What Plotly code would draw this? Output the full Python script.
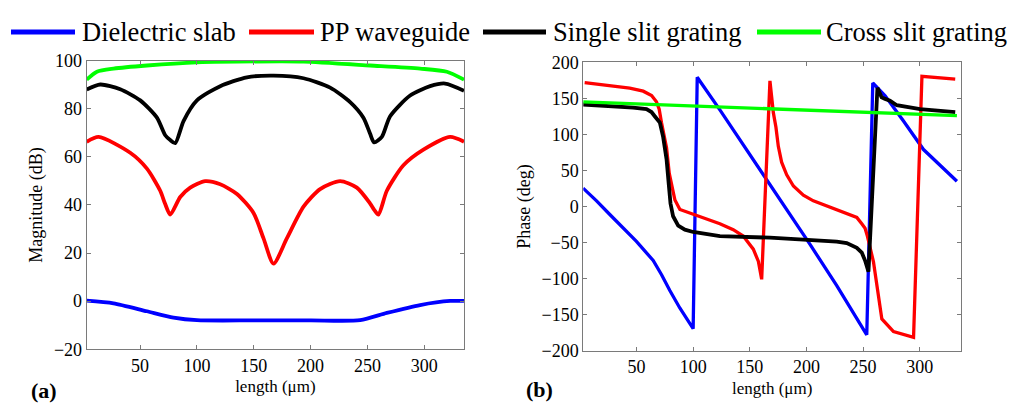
import plotly.graph_objects as go

W, H = 1011, 409
FONT = "Liberation Serif, Times New Roman, serif"

series_names = ["Dielectric slab", "PP waveguide", "Single slit grating", "Cross slit grating"]
series_colors = ["#0000FF", "#FF0000", "#000000", "#00FF00"]

# ---------- (a) Magnitude (dB) ----------
mag_slab_x = [3, 26.6, 56, 79.4, 100, 150, 200, 243.6, 267.1, 296.4, 322.8, 335]
mag_slab_y = [0.2, -0.9, -4.2, -6.8, -7.9, -8.0, -8.0, -7.9, -4.9, -1.6, 0.1, 0.1]

mag_pp_x = [3, 13.5, 41.3, 56, 67.7, 72, 76.5, 85.3, 94.1, 107.3, 120.5, 135.2, 149.8, 158.6, 167.4,
            179.1, 193.8, 208.4, 226, 240.7, 252.4, 256, 259.7, 267.1, 281.7, 299.3, 322.8, 335]
mag_pp_y = [66.3, 68.3, 61.7, 55.1, 45.9, 40.5, 36.0, 43.3, 47.2, 49.9, 48.6, 44.6, 36.7, 26.1, 15.6,
            26.1, 39.3, 46.6, 49.9, 47.2, 40.6, 38.0, 36.0, 45.9, 56.5, 63.0, 68.3, 66.3]

mag_single_x = [3, 15, 32.5, 50.1, 64.8, 72.1, 76.5, 80.9, 88.2, 100, 120.5, 144, 167.4, 193.8,
                217.2, 234.8, 246.5, 252.4, 255.9, 262.7, 270, 287.6, 305.2, 318.4, 335]
mag_single_y = [88.0, 90.1, 88.1, 83.5, 76.3, 69.0, 67.0, 65.7, 74.9, 83.5, 89.4, 93.1, 93.8, 92.7,
                88.8, 82.8, 76.3, 69.6, 66.0, 68.3, 76.9, 85.5, 89.4, 90.5, 87.5]

mag_cross_x = [3, 12, 26.6, 56, 100, 173, 193.8, 252.4, 296.4, 319.9, 335]
mag_cross_y = [92.1, 95.4, 96.7, 98.0, 99.3, 99.7, 99.6, 98.0, 96.7, 95.4, 92.1]

# ---------- (b) Phase (deg) ----------
ph_slab_x = [2.8, 14.7, 26.4, 38.2, 49.9, 64.7, 72.1, 79.4, 88.2, 100.0, 103.6, 123.6, 147.2, 176.1,
             203.2, 226.8, 253.3, 258.6, 269.5, 285.7, 303.4, 332.9]
ph_slab_y = [25.5, 7.9, -11.0, -29.5, -48.4, -74.8, -94.5, -116.5, -140.7, -169.3, 179.3, 134.0, 79.0, 10.9,
             -52.5, -109.7, -177.8, 171.3, 153.7, 118.6, 79.0, 35.0]

ph_pp_x = [4.2, 29.4, 44, 55.9, 63.3, 67.6, 70, 72, 74.2, 76.5, 78.9, 80.9, 83.9, 88.3, 100, 111.8,
           123.6, 135.4, 144.2, 153.1, 157.6, 160.5, 167.8, 169.3, 170.8, 173.1, 175.2, 178.1, 182.6,
           188.5, 197.3, 206.1, 215, 226.8, 238.6, 244.5, 248.9, 251.8, 253.9, 259.2, 266.6, 276.9,
           294.6, 302, 331.4]
ph_pp_y = [171.7, 167.3, 164.2, 160.0, 154.0, 145.3, 135.0, 116.7, 99.0, 81.6, 46.0, 28.8, 9.1, -4.1,
           -10.7, -17.3, -23.9, -32.1, -40.9, -59.1, -76.0, -100.9, 174.2, 152.2, 130.2, 110.0, 83.5,
           61.5, 44.0, 28.5, 15.8, 7.9, 2.6, -3.5, -10.6, -15.0, -23.8, -30.0, -41.4, -76.6, -155.8,
           -173.4, -181.3, 180.5, 176.8]

ph_single_x = [2.8, 29.3, 47, 58.8, 63.2, 66.1, 70.6, 73.5, 76.5, 78.5, 80, 82.3, 86.8, 92.7, 100,
               123.6, 167.8, 226.8, 235.6, 244.5, 248.9, 251.8, 254.8, 262.7, 266.4, 269.5, 273.8,
               279.8, 300.4, 331.4]
ph_single_y = [141.5, 139.3, 137.1, 135.0, 131.0, 125.2, 116.4, 96.6, 65.8, 30.1, 4.2, -13.5, -26.5,
               -32.1, -35.3, -41.0, -43.2, -48.5, -50.7, -57.3, -63.9, -74.9, -90.3, 164.7, 151.5,
               149.3, 146.9, 140.5, 135.2, 130.8]

ph_cross_x = [2.8, 60, 120, 176.1, 240, 300, 332.9]
ph_cross_y = [145.0, 141.7, 138.3, 135.3, 131.4, 128.0, 126.1]

mag_x = [mag_slab_x, mag_pp_x, mag_single_x, mag_cross_x]
mag_y = [mag_slab_y, mag_pp_y, mag_single_y, mag_cross_y]
ph_x = [ph_slab_x, ph_pp_x, ph_single_x, ph_cross_x]
ph_y = [ph_slab_y, ph_pp_y, ph_single_y, ph_cross_y]

mag_ticks = [-20, 0, 20, 40, 60, 80, 100]
ph_ticks = [-200, -150, -100, -50, 0, 50, 100, 150, 200]
x_ticks = [50, 100, 150, 200, 250, 300]

fig = go.Figure()
for i in range(4):
    fig.add_trace(go.Scatter(x=mag_x[i], y=mag_y[i], mode="lines", name=series_names[i],
                             line=dict(color=series_colors[i], width=3.8, shape="spline", smoothing=0.7),
                             showlegend=False, xaxis="x", yaxis="y"))
for i in range(4):
    fig.add_trace(go.Scatter(x=ph_x[i], y=ph_y[i], mode="lines", name=series_names[i],
                             line=dict(color=series_colors[i], width=3.3 if i != 2 else 3.8),
                             showlegend=False, xaxis="x2", yaxis="y2"))

AXC = "#7a7a7a"
common = dict(showline=True, linecolor=AXC, linewidth=1, mirror="ticks", ticks="inside",
              ticklen=4, tickcolor=AXC, showgrid=False, zeroline=False,
              tickfont=dict(family=FONT, size=18, color="black"))

fig.update_layout(
    width=W, height=H, autosize=False,
    margin=dict(l=0, r=0, t=0, b=0),
    paper_bgcolor="white", plot_bgcolor="white",
    font=dict(family=FONT, color="black"),
    xaxis=dict(domain=[86.7 / W, 464 / W], range=[3, 335], tickvals=x_ticks,
               title=dict(text="length (μm)", font=dict(family=FONT, size=17), standoff=5),
               anchor="y", **common),
    yaxis=dict(domain=[1 - 356.7 / H, 1 - 53.3 / H], range=[-20, 100], tickvals=mag_ticks,
               title=dict(text="Magnitude (dB)", font=dict(family=FONT, size=18), standoff=6),
               anchor="x", **common),
    xaxis2=dict(domain=[583.3 / W, 961 / W], range=[3, 336.5], tickvals=x_ticks,
                title=dict(text="length (μm)", font=dict(family=FONT, size=17), standoff=5),
                anchor="y2", **common),
    yaxis2=dict(domain=[1 - 358.3 / H, 1 - 55 / H], range=[-200, 200], tickvals=ph_ticks,
                title=dict(text="Phase (deg)", font=dict(family=FONT, size=18), standoff=6),
                anchor="x2", **common),
)

# Legend drawn at the top (line swatches + labels)
legend_y = 1 - 23 / H
swatches = [(11, 75, 80), (249, 314, 318), (483, 546, 551), (757, 821, 824)]
shapes = []
annotations = []
for (x0, x1, tx), name, col in zip(swatches, series_names, series_colors):
    shapes.append(dict(type="line", xref="paper", yref="paper", x0=x0 / W, x1=x1 / W,
                       y0=legend_y, y1=legend_y, line=dict(color=col, width=5)))
    annotations.append(dict(xref="paper", yref="paper", x=tx / W, y=legend_y, xanchor="left",
                            yanchor="middle", text=name, showarrow=False,
                            font=dict(family=FONT, size=26.5, color="black")))

annotations.append(dict(xref="paper", yref="paper", x=29 / W, y=1 - 400 / H, xanchor="left",
                        yanchor="middle", text="<b>(a)</b>", showarrow=False,
                        font=dict(family=FONT, size=22, color="black")))
annotations.append(dict(xref="paper", yref="paper", x=524 / W, y=1 - 399 / H, xanchor="left",
                        yanchor="middle", text="<b>(b)</b>", showarrow=False,
                        font=dict(family=FONT, size=22, color="black")))

fig.update_layout(shapes=shapes, annotations=annotations)
fig.write_html("out.html")
